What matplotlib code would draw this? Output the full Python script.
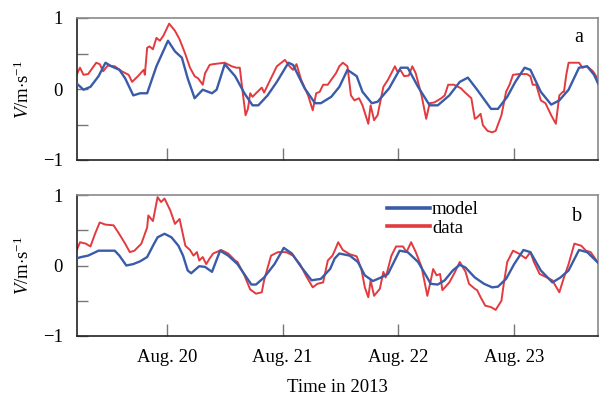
import matplotlib
matplotlib.use("Agg")
import matplotlib.pyplot as plt

plt.rcParams['font.family'] = ['Liberation Serif', 'DejaVu Serif']
plt.rcParams['mathtext.fontset'] = 'custom'
plt.rcParams['mathtext.rm'] = 'Liberation Serif'
plt.rcParams['mathtext.it'] = 'Liberation Serif:italic'

# ---- data (time in fractional day of August 2013, velocity in m/s) ----
a_model_t = [19.22, 19.28, 19.34, 19.41, 19.47, 19.52, 19.59, 19.64, 19.71, 19.77, 19.83, 19.91,
             20.01, 20.07, 20.13, 20.18, 20.24, 20.31, 20.39, 20.43, 20.50, 20.59, 20.67, 20.74,
             20.79, 20.87, 20.95, 21.05, 21.09, 21.19, 21.28, 21.33, 21.42, 21.49, 21.56, 21.64,
             21.69, 21.77, 21.82, 21.92, 22.02, 22.08, 22.17, 22.27, 22.34, 22.44, 22.53, 22.60,
             22.68, 22.80, 22.86, 22.94, 23.01, 23.09, 23.14, 23.23, 23.32, 23.39, 23.47, 23.56,
             23.63, 23.69, 23.73]
a_model_v = [0.08, -0.01, 0.03, 0.18, 0.37, 0.32, 0.27, 0.15, -0.09, -0.06, -0.06, 0.32,
             0.68, 0.53, 0.44, 0.15, -0.13, -0.01, -0.06, -0.01, 0.35, 0.18, -0.06, -0.23,
             -0.23, -0.09, 0.10, 0.37, 0.34, 0.01, -0.20, -0.20, -0.11, 0.03, 0.27, 0.18,
             -0.04, -0.20, -0.18, 0.01, 0.30, 0.30, 0.03, -0.23, -0.23, -0.09, 0.10, 0.16,
             -0.01, -0.28, -0.28, -0.11, 0.10, 0.30, 0.27, -0.04, -0.22, -0.16, -0.01, 0.30,
             0.32, 0.20, 0.06]

a_data_t = [19.22, 19.25, 19.28, 19.32, 19.39, 19.42, 19.45, 19.49, 19.55, 19.61, 19.67, 19.70,
            19.75, 19.80, 19.81, 19.83, 19.85, 19.88, 19.91, 19.94, 19.97, 20.02, 20.07, 20.11,
            20.16, 20.20, 20.24, 20.27, 20.31, 20.33, 20.37, 20.40, 20.50, 20.56, 20.60, 20.63,
            20.66, 20.68, 20.70, 20.72, 20.74, 20.77, 20.82, 20.84, 20.95, 21.02, 21.06, 21.09,
            21.12, 21.16, 21.22, 21.26, 21.29, 21.32, 21.35, 21.39, 21.42, 21.46, 21.49, 21.52,
            21.56, 21.59, 21.62, 21.66, 21.69, 21.74, 21.76, 21.79, 21.82, 21.87, 21.91, 21.97,
            21.99, 22.02, 22.05, 22.09, 22.12, 22.15, 22.20, 22.24, 22.27, 22.31, 22.37, 22.40,
            22.43, 22.48, 22.54, 22.57, 22.63, 22.66, 22.68, 22.71, 22.73, 22.77, 22.81, 22.84,
            22.89, 22.93, 22.96, 22.99, 23.04, 23.11, 23.14, 23.16, 23.19, 23.23, 23.27, 23.32,
            23.36, 23.39, 23.42, 23.43, 23.45, 23.47, 23.56, 23.59, 23.63, 23.68, 23.72]
a_data_v = [0.20, 0.30, 0.20, 0.21, 0.37, 0.35, 0.25, 0.33, 0.32, 0.25, 0.20, 0.10,
            0.18, 0.27, 0.20, 0.58, 0.60, 0.56, 0.72, 0.68, 0.75, 0.92, 0.82, 0.70,
            0.49, 0.30, 0.18, 0.15, 0.06, 0.22, 0.34, 0.35, 0.37, 0.32, 0.30, 0.30,
            -0.11, -0.37, -0.28, -0.06, -0.11, -0.06, 0.02, -0.05, 0.32, 0.41, 0.32, 0.27,
            0.35, 0.13, -0.09, -0.30, -0.06, -0.04, 0.06, 0.06, 0.13, 0.22, 0.32, 0.37,
            0.32, -0.09, -0.16, -0.13, -0.23, -0.49, -0.23, -0.44, -0.37, 0.03, 0.13, 0.32,
            0.25, 0.26, 0.18, 0.19, 0.32, 0.22, -0.09, -0.42, -0.20, -0.19, -0.13, -0.09,
            0.06, 0.06, 0.01, -0.04, -0.13, -0.42, -0.40, -0.35, -0.51, -0.59, -0.61, -0.59,
            -0.37, -0.04, 0.06, 0.20, 0.21, 0.21, 0.18, 0.06, 0.06, -0.16, -0.20, -0.37,
            -0.49, -0.09, -0.04, -0.04, 0.20, 0.37, 0.37, 0.30, 0.32, 0.25, 0.15]

b_model_t = [19.22, 19.26, 19.32, 19.41, 19.55, 19.59, 19.65, 19.71, 19.77, 19.83, 19.88, 19.92,
             19.98, 20.04, 20.10, 20.14, 20.18, 20.21, 20.28, 20.33, 20.39, 20.46, 20.53, 20.61,
             20.73, 20.77, 20.84, 20.93, 21.01, 21.08, 21.16, 21.25, 21.33, 21.41, 21.45, 21.49,
             21.58, 21.65, 21.71, 21.78, 21.85, 21.91, 22.01, 22.08, 22.17, 22.28, 22.34, 22.40,
             22.47, 22.53, 22.58, 22.66, 22.74, 22.81, 22.86, 22.93, 23.00, 23.08, 23.14, 23.23,
             23.33, 23.40, 23.47, 23.56, 23.63, 23.73]
b_model_v = [0.10, 0.12, 0.14, 0.21, 0.21, 0.14, 0.00, 0.02, 0.06, 0.12, 0.28, 0.40,
             0.45, 0.40, 0.28, 0.14, -0.07, -0.11, -0.01, -0.02, -0.09, 0.21, 0.14, 0.02,
             -0.27, -0.27, -0.17, 0.02, 0.25, 0.17, -0.02, -0.21, -0.19, -0.05, 0.10, 0.17,
             0.14, 0.05, -0.14, -0.22, -0.17, -0.12, 0.21, 0.19, 0.05, -0.26, -0.27, -0.21,
             -0.07, 0.01, -0.03, -0.17, -0.26, -0.31, -0.30, -0.19, 0.02, 0.22, 0.19, -0.07,
             -0.24, -0.17, -0.07, 0.22, 0.19, 0.03]

b_data_t = [19.22, 19.25, 19.30, 19.34, 19.38, 19.42, 19.47, 19.54, 19.58, 19.64, 19.68, 19.72,
            19.78, 19.83, 19.84, 19.88, 19.92, 19.95, 19.98, 20.03, 20.07, 20.11, 20.16, 20.20,
            20.23, 20.26, 20.28, 20.31, 20.34, 20.37, 20.40, 20.47, 20.53, 20.59, 20.61, 20.67,
            20.72, 20.77, 20.82, 20.84, 20.90, 20.96, 21.03, 21.09, 21.15, 21.20, 21.26, 21.30,
            21.35, 21.39, 21.43, 21.45, 21.48, 21.52, 21.58, 21.64, 21.68, 21.71, 21.74, 21.76,
            21.79, 21.84, 21.87, 21.89, 21.94, 21.98, 22.04, 22.07, 22.11, 22.15, 22.20, 22.25,
            22.28, 22.30, 22.33, 22.36, 22.38, 22.44, 22.48, 22.53, 22.58, 22.61, 22.66, 22.68,
            22.71, 22.75, 22.80, 22.84, 22.89, 22.91, 22.94, 22.99, 23.04, 23.10, 23.14, 23.17,
            23.22, 23.27, 23.33, 23.39, 23.43, 23.47, 23.52, 23.58, 23.62, 23.66, 23.72]
b_data_v = [0.21, 0.33, 0.31, 0.27, 0.45, 0.61, 0.58, 0.57, 0.47, 0.31, 0.19, 0.21,
            0.31, 0.54, 0.71, 0.63, 0.97, 0.90, 0.95, 0.78, 0.59, 0.66, 0.28, 0.22,
            0.14, 0.19, 0.07, 0.12, 0.02, 0.10, 0.17, 0.22, 0.17, 0.07, 0.05, -0.14,
            -0.34, -0.40, -0.38, -0.21, 0.14, 0.19, 0.19, 0.14, 0.02, -0.14, -0.31, -0.26,
            -0.24, 0.07, 0.14, 0.21, 0.33, 0.22, 0.16, 0.13, -0.05, -0.31, -0.45, -0.21,
            -0.43, -0.33, -0.09, -0.17, 0.14, 0.27, 0.27, 0.19, 0.33, 0.19, -0.02, -0.43,
            -0.21, -0.05, -0.14, -0.12, -0.35, -0.24, -0.12, 0.05, -0.09, -0.26, -0.33, -0.35,
            -0.45, -0.57, -0.59, -0.63, -0.50, -0.26, 0.05, 0.21, 0.17, 0.10, 0.19, 0.05,
            -0.12, -0.16, -0.21, -0.38, -0.17, 0.02, 0.31, 0.28, 0.21, 0.19, 0.05]

day_ticks = [20, 21, 22, 23]
day_labels = ["Aug. 20", "Aug. 21", "Aug. 22", "Aug. 23"]
y_ticks = [-1, -0.5, 0, 0.5, 1]
y_labels = ["\u22121", "", "0", "", "1"]

BLUE = "#3a5ca8"
RED = "#e23a3f"
FS = 13.5

fig = plt.figure(figsize=(6.01, 4.00), dpi=100)
W, H = 601, 400
def axrect(l, t, r, b):
    return [l / W, 1 - b / H, (r - l) / W, (b - t) / H]

ax_a = fig.add_axes(axrect(77, 18, 598, 160))
ax_b = fig.add_axes(axrect(77, 195, 598, 336))

for ax, (mt, mv, dt, dv), lab in [
        (ax_a, (a_model_t, a_model_v, a_data_t, a_data_v), "a"),
        (ax_b, (b_model_t, b_model_v, b_data_t, b_data_v), "b")]:
    ax.plot(mt, mv, color=BLUE, lw=1.7, label="model", zorder=3, solid_joinstyle='round')
    ax.plot(dt, dv, color=RED, lw=1.4, label="data", zorder=2, solid_joinstyle='round')
    ax.set_xlim(19.224, 23.724)
    ax.set_ylim(-1, 1)
    ax.set_yticks(y_ticks)
    ax.set_yticklabels(y_labels, fontsize=FS)
    ax.set_xticks(day_ticks)
    ax.tick_params(axis='y', direction='in', length=8, width=1.0, color='#777777', pad=10)
    ax.tick_params(axis='x', direction='in', length=9, width=1.0, color='#777777', pad=9)
    ax.spines['left'].set_color('#222222')
    ax.spines['bottom'].set_color('#222222')
    ax.spines['top'].set_color('#8a8a8a')
    ax.spines['right'].set_color('#8a8a8a')
    for s in ax.spines.values():
        s.set_linewidth(1.2)
    ax.set_ylabel(r"$\it{V}$/m$\cdot$s$^{-1}$", fontsize=FS)
    ax.yaxis.set_label_coords(-0.085, 0.5)

ax_a.set_xticklabels([])
ax_b.set_xticklabels(day_labels, fontsize=FS)
ax_b.set_xlabel("Time in 2013", fontsize=FS, labelpad=10)

ax_a.text(0.962, 0.86, "a", transform=ax_a.transAxes, fontsize=FS + 1, ha='center', va='center')
ax_b.text(0.960, 0.85, "b", transform=ax_b.transAxes, fontsize=FS + 1, ha='center', va='center')

leg = ax_b.legend(loc='upper left', bbox_to_anchor=(0.595, 0.955), frameon=False,
                  fontsize=FS, handlelength=2.3, handletextpad=0.1, labelspacing=0.05,
                  borderpad=0, borderaxespad=0)
for h in leg.get_lines():
    h.set_linewidth(2.6)

fig.savefig("out.png", dpi=100)
